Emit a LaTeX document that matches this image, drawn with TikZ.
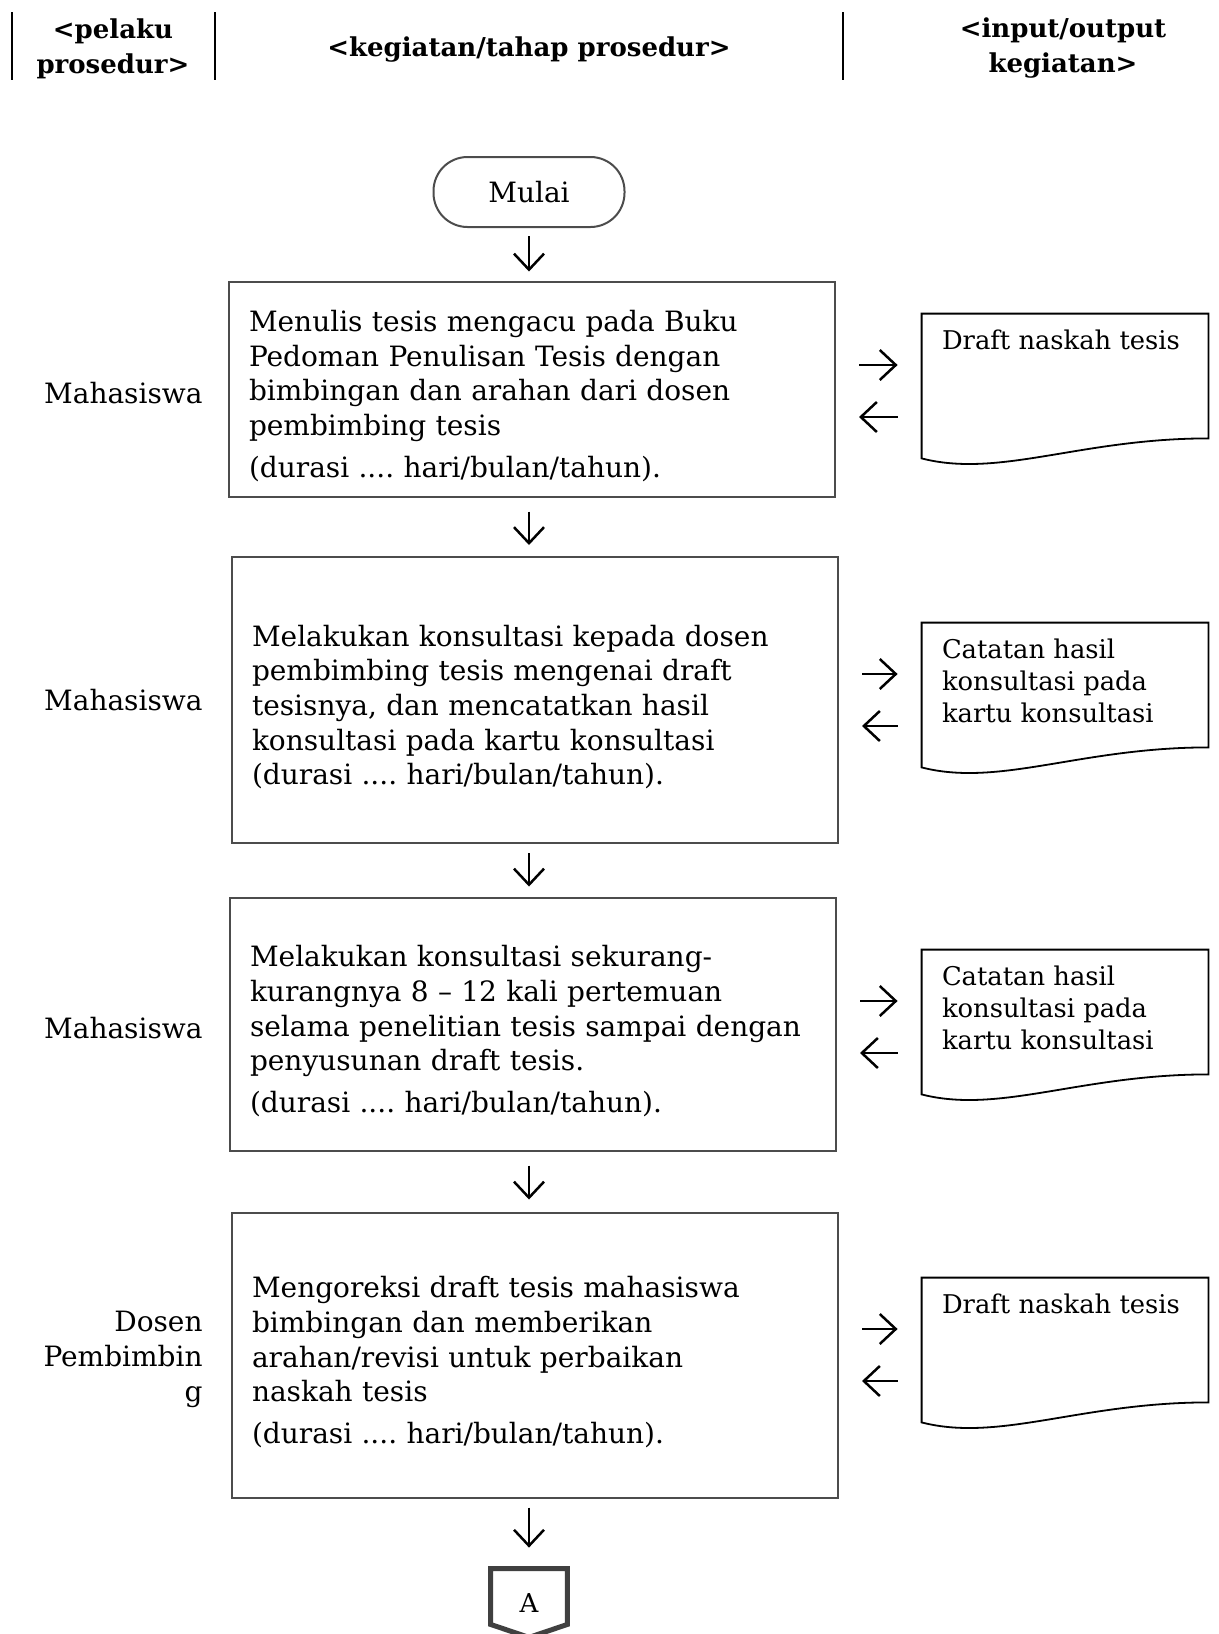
\documentclass[tikz,border=0pt]{standalone}
\usepackage{fontspec}
\setmainfont{DejaVu Serif}
\frenchspacing
\usetikzlibrary{arrows.meta,calc}

\begin{document}
\begin{tikzpicture}[x=0.5pt,y=-0.5pt,
every node/.style={inner sep=0pt},
flow/.style={-{Straight Barb[length=8pt,width=15pt]},line width=1.25pt},
head/.style={align=center,font=\bfseries\fontsize{13}{17.3}\selectfont},
actor/.style={anchor=east,align=right,font=\fontsize{14}{17.5}\selectfont},
stepbox/.style={draw=black!70,line width=1pt,align=left,text width=283pt,
  inner xsep=10pt,font=\fontsize{14}{17.35}\selectfont,
  execute at begin node={\rule{0pt}{17.6pt}}},
docbox/.style={minimum width=143pt,minimum height=76pt},
doctext/.style={anchor=north west,align=left,inner xsep=10pt,inner ysep=8pt,
  font=\fontsize{12.9}{16}\selectfont},
docline/.style={draw,line width=0.9pt}]

\useasboundingbox (0,0) rectangle (1219,1634);

% header
\draw[line width=1.3pt] (12,12) -- (12,80);
\draw[line width=1.3pt] (215,12) -- (215,80);
\draw[line width=1.3pt] (843,12) -- (843,80);
\node[head] (h1) at (113,49) {<pelaku\\prosedur>};
\node[head] (h2) at (529,50) {<kegiatan/tahap prosedur>};
\node[head] (h3) at (1063,48) {<input/output\\kegiatan>};

% flow
\node[draw=black!70,line width=1pt,rounded corners=17pt,minimum width=95.5pt,minimum height=35pt,
  font=\fontsize{14}{17}\selectfont] (start) at (529,192) {Mulai};

\node[stepbox,minimum height=107.5pt] (b1) at (532,389) {Menulis tesis mengacu pada Buku\\
  Pedoman Penulisan Tesis dengan\\bimbingan dan arahan dari dosen\\pembimbing tesis\\[3.5pt]
  (durasi .... hari/bulan/tahun).};
\node[stepbox,minimum height=143pt] (b2) at (535,700) {Melakukan konsultasi kepada dosen\\
  pembimbing tesis mengenai draft\\tesisnya, dan mencatatkan hasil\\konsultasi pada kartu konsultasi\\
  (durasi .... hari/bulan/tahun).};
\node[stepbox,minimum height=126.5pt] (b3) at (533,1024) {Melakukan konsultasi sekurang-\\
  kurangnya 8 – 12 kali pertemuan\\selama penelitian tesis sampai dengan\\penyusunan draft tesis.\\[3.3pt]
  (durasi .... hari/bulan/tahun).};
\node[stepbox,minimum height=142.5pt] (b4) at (535,1355) {Mengoreksi draft tesis mahasiswa\\
  bimbingan dan memberikan\\arahan/revisi untuk perbaikan\\naskah tesis\\[3.3pt]
  (durasi .... hari/bulan/tahun).};

\node[minimum width=38pt,minimum height=34pt,font=\fontsize{13}{15}\selectfont] (conA) at (529,1603) {A};
\draw[black!75,line width=2.5pt] (conA.north west) -- (conA.north east) -- ([yshift=6.5pt]conA.south east)
  -- (conA.south) -- ([yshift=6.5pt]conA.south west) -- cycle;

\draw[flow,shorten <=4pt,shorten >=4.5pt] (start.south) -- (b1.north -| start);
\draw[flow,shorten <=7pt,shorten >=5.5pt] (b1.south -| start) -- (b2.north -| start);
\draw[flow,shorten <=4.5pt,shorten >=5pt] (b2.south -| start) -- (b3.north -| start);
\draw[flow,shorten <=7pt,shorten >=6pt] (b3.south -| start) -- (b4.north -| start);
\draw[flow,shorten <=4.5pt,shorten >=10.5pt] (b4.south -| start) -- (conA.north);

% actors
\node[actor] (p1) at (203,393) {Mahasiswa};
\node[actor] (p2) at (203,700) {Mahasiswa};
\node[actor] (p3) at (203,1028) {Mahasiswa};
\node[actor] (p4) at (203,1359) {Dosen\\Pembimbin\\g};

% documents
\node[docbox] (d1) at (1065,390) {};
\node[docbox] (d2) at (1065,699) {};
\node[docbox] (d3) at (1065,1026) {};
\node[docbox] (d4) at (1065,1354) {};
\node[doctext] (t1) at (d1.north west) {Draft naskah tesis};
\node[doctext] (t2) at (d2.north west) {Catatan hasil\\konsultasi pada\\kartu konsultasi};
\node[doctext] (t3) at (d3.north west) {Catatan hasil\\konsultasi pada\\kartu konsultasi};
\node[doctext] (t4) at (d4.north west) {Draft naskah tesis};

\foreach \i in {1,...,4} {
  \draw[docline] (d\i.north west) -- (d\i.north east) -- ([yshift=14pt]d\i.south east)
    .. controls +(-64pt,0pt) and +(39pt,-10pt) .. ([yshift=4pt]d\i.south west) -- cycle;
  \draw[flow,shorten <=11.5pt,shorten >=12pt] ($(b\i.east |- d\i.west)+(0,-25)$) -- ($(d\i.west)+(0,-25)$);
  \draw[flow,shorten <=12pt,shorten >=11.5pt] ($(d\i.west)+(0,27)$) -- ($(b\i.east |- d\i.west)+(0,27)$);
}

\end{tikzpicture}
\end{document}
